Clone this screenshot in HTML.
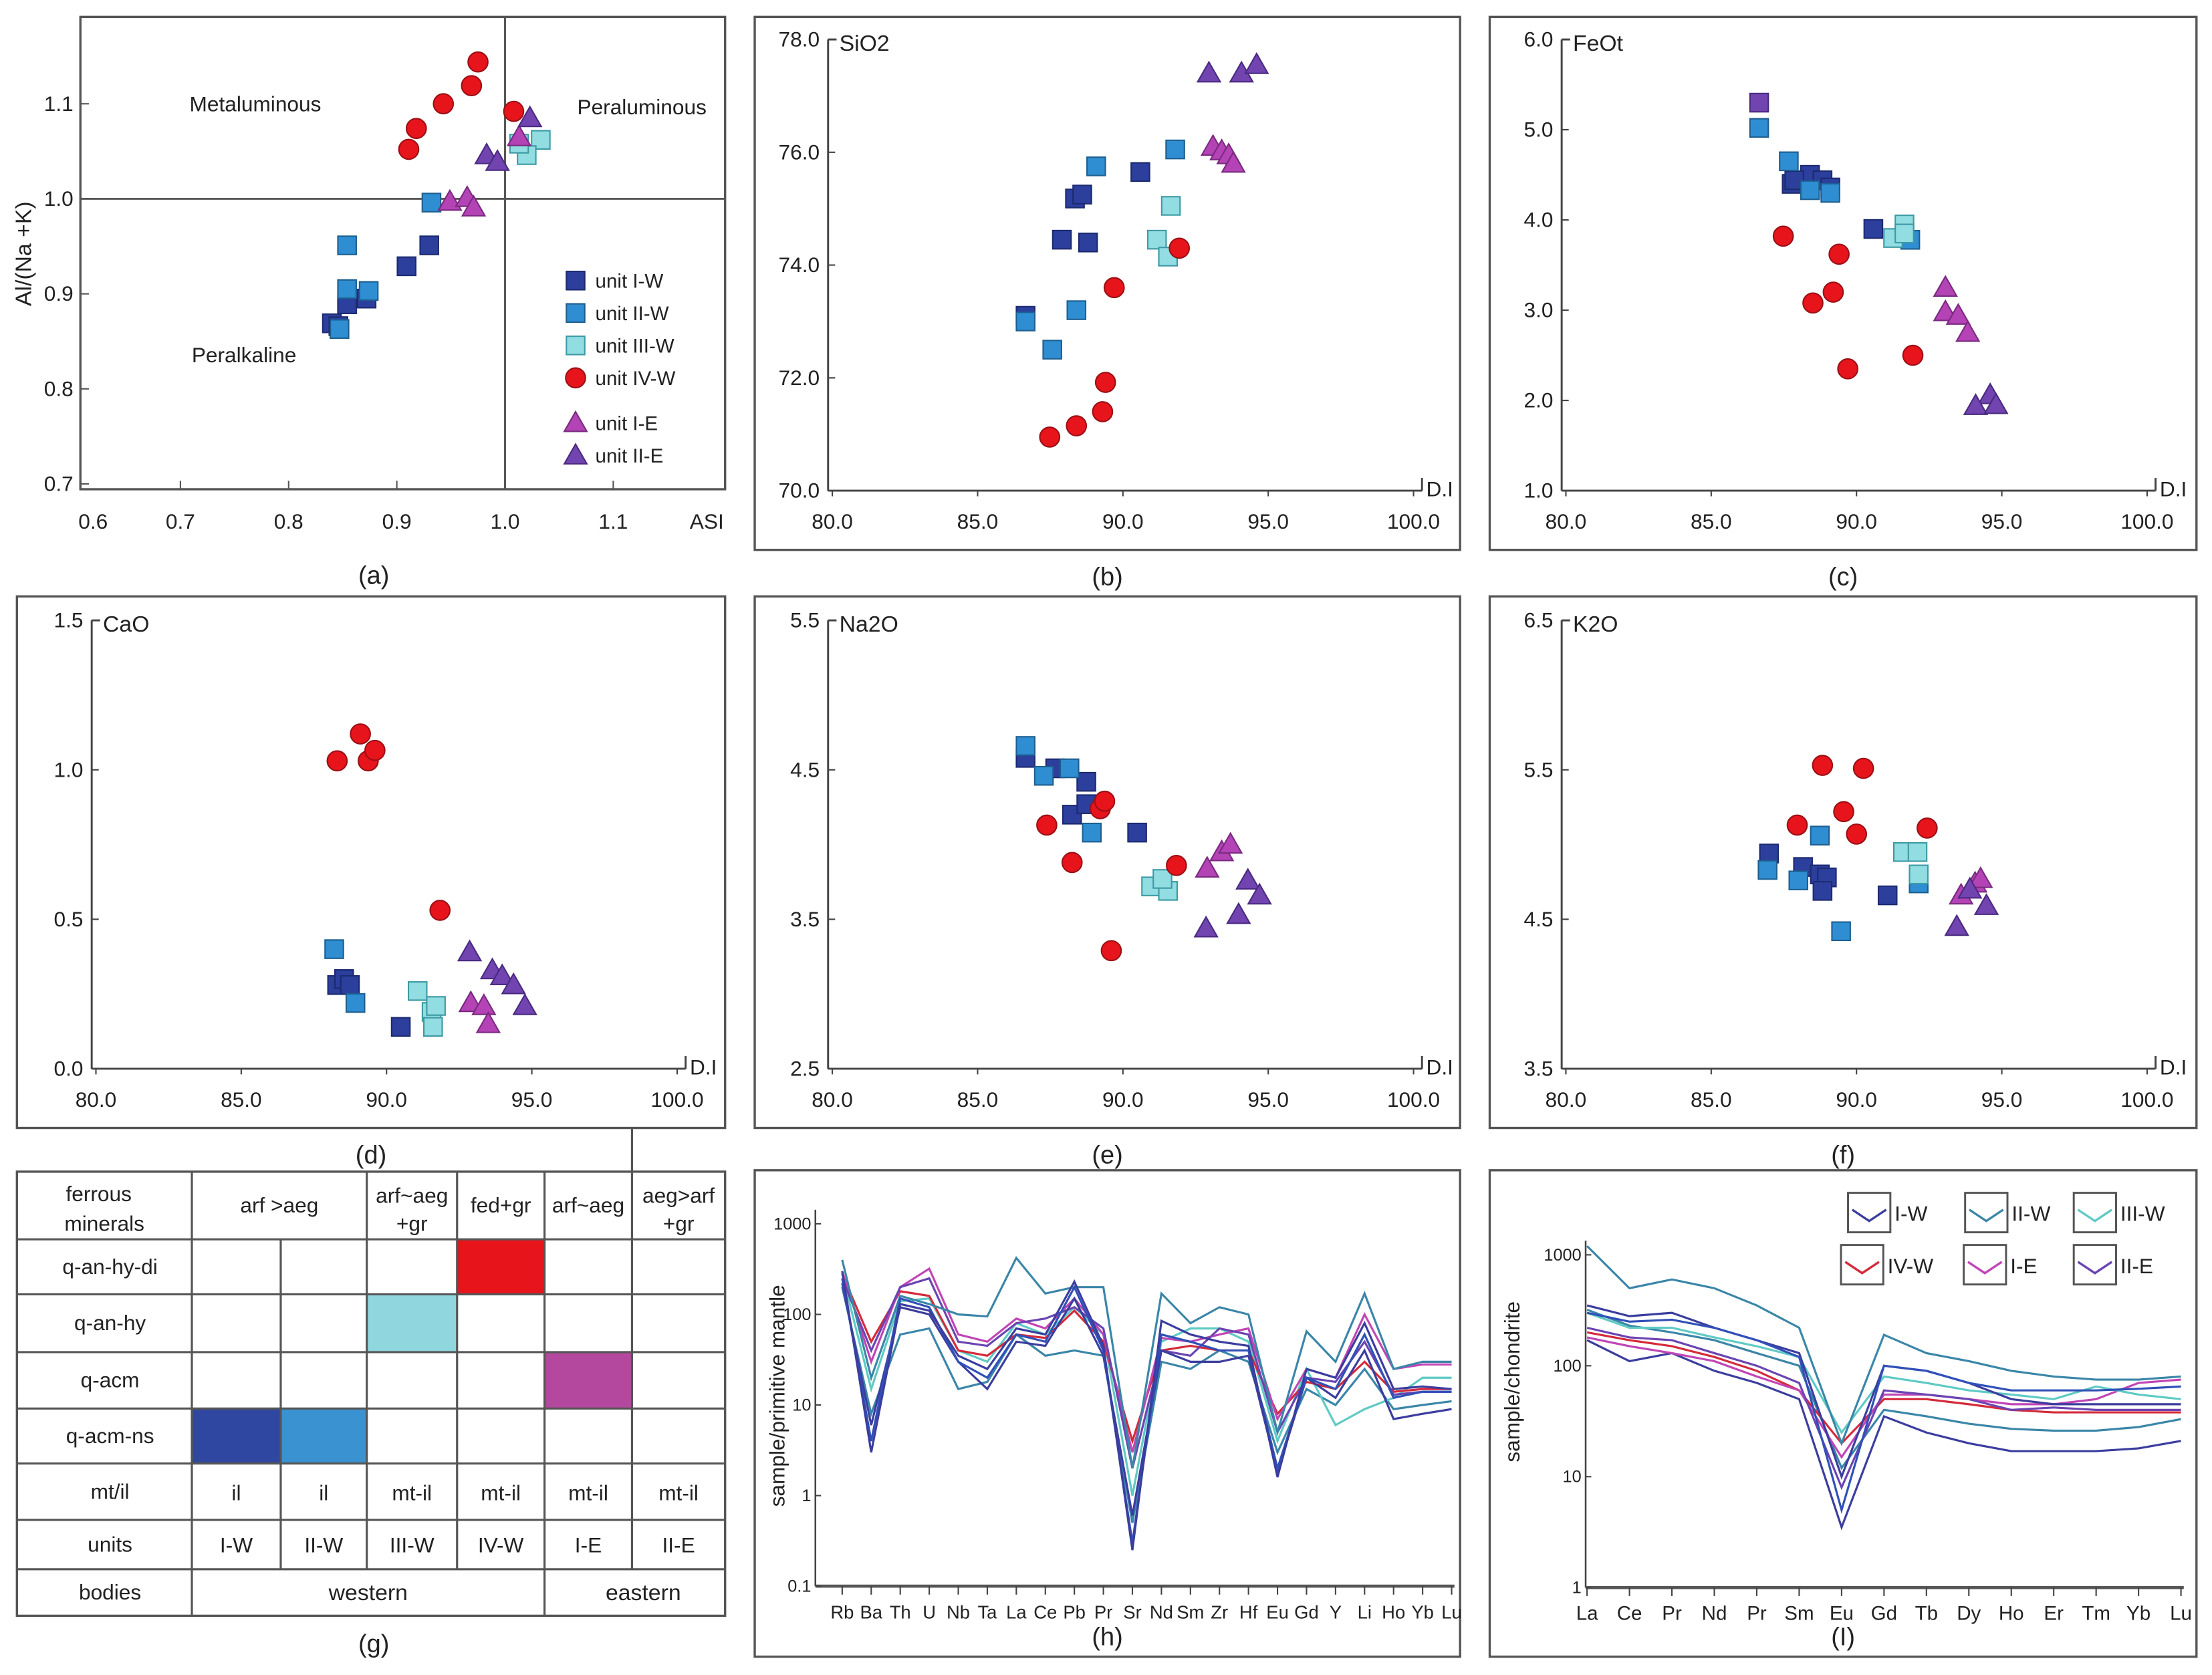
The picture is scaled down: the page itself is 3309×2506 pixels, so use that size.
<!DOCTYPE html>
<html><head><meta charset="utf-8"><style>
html,body{margin:0;padding:0;background:#fff}
svg{display:block}
text{font-family:"Liberation Sans",sans-serif;fill:#222}
</style></head><body>
<svg id="fig" width="3309" height="2506" viewBox="0 0 1568 1188" preserveAspectRatio="none" xmlns="http://www.w3.org/2000/svg"></svg>
<script>
// ---------- data ----------
// panel a: [ASI, A/NK]
const a_IW=[[0.930,0.951],[0.909,0.929],[0.872,0.895],[0.854,0.889],[0.840,0.869],[0.846,0.866]];
const a_IIW=[[0.854,0.951],[0.932,0.996],[0.854,0.905],[0.874,0.903],[0.847,0.863]];
const a_IIIW=[[1.033,1.062],[1.020,1.046],[1.013,1.058]];
const a_IVW=[[0.975,1.144],[0.969,1.119],[0.943,1.100],[0.918,1.074],[0.911,1.052],[1.008,1.092]];
const a_IE=[[0.949,0.997],[0.965,1.001],[0.971,0.991],[1.013,1.065]];
const a_IIE=[[1.023,1.085],[0.983,1.046],[0.993,1.039]];
// panel b SiO2 vs D.I
const b_IW=[[86.65,73.1],[88.35,75.18],[88.6,75.25],[87.9,74.45],[88.8,74.4],[90.6,75.65]];
const b_IIW=[[86.65,73.0],[87.57,72.5],[88.4,73.2],[89.08,75.75],[91.8,76.05]];
const b_IIIW=[[91.17,74.45],[91.55,74.15],[91.65,75.05]];
const b_IVW=[[87.48,70.95],[88.4,71.15],[89.3,71.4],[89.4,71.92],[89.7,73.6],[91.94,74.3]];
const b_IE=[[93.1,76.1],[93.4,76.02],[93.64,75.95],[93.8,75.8]];
const b_IIE=[[92.96,77.4],[94.08,77.4],[94.6,77.55]];
// panel c FeOt
const c_IW=[[87.77,4.4],[88.4,4.5],[88.83,4.44],[89.1,4.36],[90.58,3.9],[87.86,4.44]];
const c_IIW=[[86.65,5.02],[87.67,4.65],[88.4,4.33],[89.1,4.3],[91.85,3.78]];
const c_IIIW=[[91.26,3.8],[91.65,3.95],[91.65,3.85]];
const c_IVW=[[87.48,3.82],[88.5,3.08],[89.2,3.2],[89.4,3.62],[89.7,2.35],[91.94,2.5]];
const c_IE=[[93.06,3.25],[93.06,2.98],[93.5,2.94],[93.83,2.75]];
const c_IIE=[[94.6,2.06],[94.1,1.94],[94.8,1.95]];
const c_extra=[[86.65,5.3]];
// panel d CaO
const d_IW=[[88.3,0.28],[88.54,0.30],[88.74,0.28],[90.49,0.14]];
const d_IIW=[[88.2,0.40],[88.93,0.22]];
const d_IIIW=[[91.07,0.26],[91.55,0.19],[91.6,0.14],[91.7,0.21]];
const d_IVW=[[88.3,1.03],[89.1,1.12],[89.37,1.03],[89.6,1.065],[91.84,0.53]];
const d_IE=[[92.9,0.22],[93.35,0.21],[93.5,0.15]];
const d_IIE=[[92.86,0.39],[93.64,0.33],[93.98,0.31],[94.37,0.28],[94.76,0.21]];
// panel e Na2O
const e_IW=[[86.65,4.58],[87.67,4.51],[88.25,4.2],[88.74,4.42],[88.74,4.27],[90.49,4.08]];
const e_IIW=[[86.65,4.66],[87.28,4.46],[88.16,4.51],[88.93,4.08]];
const e_IIIW=[[90.97,3.72],[91.55,3.69],[91.36,3.77]];
const e_IVW=[[87.38,4.13],[88.25,3.88],[89.22,4.24],[89.37,4.29],[89.6,3.29],[91.84,3.86]];
const e_IE=[[92.9,3.84],[93.4,3.95],[93.7,4.0]];
const e_IIE=[[92.86,3.44],[93.98,3.53],[94.3,3.76],[94.7,3.66]];
// panel f K2O
const f_IW=[[86.99,4.94],[88.16,4.85],[88.74,4.8],[88.98,4.78],[88.83,4.69],[91.07,4.66]];
const f_IIW=[[86.94,4.83],[88.0,4.76],[88.74,5.06],[89.47,4.42],[92.14,4.74]];
const f_IIIW=[[91.6,4.95],[92.1,4.95],[92.14,4.80]];
const f_IVW=[[87.96,5.13],[88.83,5.53],[89.56,5.22],[90.0,5.07],[90.24,5.51],[92.43,5.11]];
const f_IE=[[93.6,4.66],[94.08,4.74],[94.27,4.77]];
const f_IIE=[[93.45,4.45],[94.47,4.59],[93.9,4.70]];
// panel h spider (primitive mantle)
const h_elements=["Rb","Ba","Th","U","Nb","Ta","La","Ce","Pb","Pr","Sr","Nd","Sm","Zr","Hf","Eu","Gd","Y","Li","Ho","Yb","Lu"];
const h_IW1=[250,4,150,120,30,20,60,50,200,40,0.3,60,50,40,40,2,20,15,60,12,14,14];
const h_IW2=[300,3,130,110,35,25,70,60,230,45,0.25,85,60,50,45,1.6,25,20,80,15,16,15];
const h_IW3=[220,6,120,100,30,15,50,45,150,35,0.6,40,30,30,35,1.8,20,12,40,7,8,9];
const h_IIW1=[400,20,160,130,100,95,420,170,200,200,2,170,80,120,100,5,65,30,170,25,30,30];
const h_IIW2=[200,8,60,70,15,18,60,35,40,35,0.5,30,25,40,30,3,15,10,25,9,10,11];
const h_IIIW=[280,15,140,150,40,30,80,60,120,60,1,50,70,70,50,4,25,6,9,12,20,20];
const h_IVW=[280,50,180,160,40,35,60,55,110,50,4,40,45,40,40,8,18,15,30,14,15,15];
const h_IE=[300,30,200,320,60,50,90,70,150,60,3,55,50,60,70,7,25,20,100,25,28,28];
const h_IIE=[250,40,200,250,50,45,80,90,120,70,2,40,35,70,60,5,20,18,50,13,14,14];
const h_ticks=[0.1,1,10,100,1000];
// panel i REE (chondrite)
const i_elements=["La","Ce","Pr","Nd","Pr","Sm","Eu","Gd","Tb","Dy","Ho","Er","Tm","Yb","Lu"];
const i_IIW1=[1200,500,600,500,350,220,20,190,130,110,90,80,75,75,80];
const i_IW1=[350,280,300,220,170,130,10,100,90,70,50,45,45,45,45];
const i_IW2=[170,110,130,90,70,50,3.5,35,25,20,17,17,17,18,21];
const i_IVW=[200,170,150,120,90,60,20,50,50,45,40,38,38,38,38];
const i_IE=[180,150,130,110,80,60,15,55,55,50,45,45,50,70,75];
const i_IIIW=[300,220,220,180,150,120,25,80,70,60,55,50,65,55,50];
const i_IIE=[220,180,170,130,100,70,8,60,55,50,40,42,40,40,40];
const i_IW3=[300,250,260,220,170,120,5,100,90,70,60,60,60,62,65];
const i_IIW2=[320,230,200,170,130,100,12,40,35,30,27,26,26,28,33];
const i_ticks=[1,10,100,1000];

// ---------- helpers ----------
const NS="http://www.w3.org/2000/svg";
const svg=document.getElementById('fig');
function mk(tag,attrs,parent){const e=document.createElementNS(NS,tag);for(const k in attrs)e.setAttribute(k,attrs[k]);(parent||svg).appendChild(e);return e;}
function txt(s,x,y,size,anchor,parent){const t=mk('text',{x:x,y:y,'font-size':size,'text-anchor':anchor||'start'},parent);t.textContent=s;return t;}
const COL={IW:'#2d3f9c',IIW:'#2f8ed2',IIIW:'#92dde2',IVW:'#e8141c',IE:'#b443b6',IIE:'#7144b0'};
const EDGE={IW:'#1c2a70',IIW:'#1d5f90',IIIW:'#3c9aa4',IVW:'#9a1015',IE:'#7a2a80',IIE:'#4a2a80'};
function marker(g,kind,unit,x,y){
  let e;
  if(kind==='sq'){e=mk('rect',{x:x-6.5,y:y-6.5,width:13,height:13,fill:COL[unit],stroke:EDGE[unit],'stroke-width':1},g);}
  else if(kind==='ci'){e=mk('circle',{cx:x,cy:y,r:7,fill:COL[unit],stroke:EDGE[unit],'stroke-width':1},g);}
  else {e=mk('polygon',{points:`${x},${y-8} ${x-8},${y+6} ${x+8},${y+6}`,fill:COL[unit],stroke:EDGE[unit],'stroke-width':1},g);}
  
  
  return e;
}
function plotSets(g,sets,X,Y){
  sets.forEach(s=>s.d.forEach(p=>marker(g,s.k,s.u,X(p[0]),Y(p[1]))));
}

// ---------- panel a ----------
(function(){
  const g=mk('g',{});
  
  
  const X=v=>358+(v-1)*767, Y=v=>141-(v-1)*674;
  const f=mk('rect',{x:57,y:12,width:457,height:335,fill:'none',stroke:'#555','stroke-width':1.6},g);
  
  mk('line',{x1:X(1),y1:12,x2:X(1),y2:347,stroke:'#555','stroke-width':1.4},g);
  mk('line',{x1:57,y1:Y(1),x2:514,y2:Y(1),stroke:'#555','stroke-width':1.4},g);
  [0.7,0.8,0.9,1.0,1.1].forEach(v=>mk('line',{x1:X(v),y1:347,x2:X(v),y2:341,stroke:'#555'},g));
  [0.7,0.8,0.9,1.0,1.1].forEach(v=>mk('line',{x1:57,y1:Y(v),x2:63,y2:Y(v),stroke:'#555'},g));
  [0.6,0.7,0.8,0.9,1.0,1.1].forEach((v,i)=>{const t=txt(v.toFixed(1),i===0?66:X(v),375,15,'middle',g);});
  txt('ASI',501,375,15,'middle',g);
  [0.7,0.8,0.9,1.0,1.1].forEach(v=>{const t=txt(v.toFixed(1),52,Y(v)+5,15,'end',g);});
  const yl=txt('Al/(Na +K)',0,0,16,'middle',g);yl.setAttribute('transform','translate(22,180) rotate(-90)');
  
  txt('Metaluminous',181,79,15,'middle',g);
  txt('Peraluminous',455,81,15,'middle',g);
  txt('Peralkaline',173,257,15,'middle',g);
  plotSets(g,[{d:a_IW,k:'sq',u:'IW'},{d:a_IIW,k:'sq',u:'IIW'},{d:a_IIIW,k:'sq',u:'IIIW'},{d:a_IVW,k:'ci',u:'IVW'},{d:a_IE,k:'tr',u:'IE'},{d:a_IIE,k:'tr',u:'IIE'}],X,Y);
  const leg=[['sq','IW','unit I-W',199],['sq','IIW','unit II-W',222],['sq','IIIW','unit III-W',245],['ci','IVW','unit IV-W',268],['tr','IE','unit I-E',300],['tr','IIE','unit II-E',323]];
  leg.forEach(l=>{const lg=mk('g',{},g);marker(lg,l[0],l[1],408,l[3]);txt(l[2],422,l[3]+5,14,'start',lg);});
  txt('(a)',265,414,18,'middle',g);
})();

// ---------- D.I panels ----------
function diPanel(name,fr,x0,axB,yMin,ySc,yt,title,sets,letter){
  const g=mk('g',{});
  
  
  const X=v=>x0+(v-80)*20.6, Y=v=>axB-(v-yMin)*ySc;
  const f=mk('rect',{x:fr[0],y:fr[1],width:fr[2]-fr[0],height:fr[3]-fr[1],fill:'none',stroke:'#555','stroke-width':1.6},g);
  
  const axL=x0-3, yTop=Y(yt[yt.length-1]), xEnd=X(100)+6;
  mk('line',{x1:axL,y1:axB,x2:xEnd,y2:axB,stroke:'#444','stroke-width':1.4},g);
  mk('line',{x1:axL,y1:axB,x2:axL,y2:yTop,stroke:'#444','stroke-width':1.4},g);
  mk('line',{x1:xEnd,y1:axB,x2:xEnd,y2:axB-9,stroke:'#444','stroke-width':1.4},g);
  mk('line',{x1:axL,y1:yTop,x2:axL+6,y2:yTop,stroke:'#444','stroke-width':1.4},g);
  [80,85,90,95,100].forEach(v=>{mk('line',{x1:X(v),y1:axB,x2:X(v),y2:axB+4,stroke:'#444'},g);const t=txt(v.toFixed(1),X(v),axB+27,15,'middle',g);});
  yt.forEach(v=>{mk('line',{x1:axL,y1:Y(v),x2:axL+5,y2:Y(v),stroke:'#444'},g);const t=txt(v.toFixed(1),axL-6,Y(v)+5,15,'end',g);});
  txt('D.I',xEnd+3,axB+4,15,'start',g);
  const tt=txt(title,axL+8,yTop+8,16,'start',g);
  plotSets(g,sets,X,Y);
  txt(letter,(fr[0]+fr[2])/2,fr[3]+25,18,'middle',g);
}
diPanel('panel-b-sio2',[535,12,1035,390],590,348,70,40,[70,72,74,76,78],'SiO2',
  [{d:b_IW,k:'sq',u:'IW'},{d:b_IIW,k:'sq',u:'IIW'},{d:b_IIIW,k:'sq',u:'IIIW'},{d:b_IVW,k:'ci',u:'IVW'},{d:b_IE,k:'tr',u:'IE'},{d:b_IIE,k:'tr',u:'IIE'}],'(b)');
diPanel('panel-c-feot',[1056,12,1557,390],1110,348,1,64,[1,2,3,4,5,6],'FeOt',
  [{d:c_extra,k:'sq',u:'IIE'},{d:c_IW,k:'sq',u:'IW'},{d:c_IIW,k:'sq',u:'IIW'},{d:c_IIIW,k:'sq',u:'IIIW'},{d:c_IVW,k:'ci',u:'IVW'},{d:c_IE,k:'tr',u:'IE'},{d:c_IIE,k:'tr',u:'IIE'}],'(c)');
diPanel('panel-d-cao',[12,423,514,800],68,758,0,212,[0,0.5,1,1.5],'CaO',
  [{d:d_IW,k:'sq',u:'IW'},{d:d_IIW,k:'sq',u:'IIW'},{d:d_IIIW,k:'sq',u:'IIIW'},{d:d_IVW,k:'ci',u:'IVW'},{d:d_IE,k:'tr',u:'IE'},{d:d_IIE,k:'tr',u:'IIE'}],'(d)');
diPanel('panel-e-na2o',[535,423,1035,800],590,758,2.5,106,[2.5,3.5,4.5,5.5],'Na2O',
  [{d:e_IW,k:'sq',u:'IW'},{d:e_IIW,k:'sq',u:'IIW'},{d:e_IIIW,k:'sq',u:'IIIW'},{d:e_IVW,k:'ci',u:'IVW'},{d:e_IE,k:'tr',u:'IE'},{d:e_IIE,k:'tr',u:'IIE'}],'(e)');
diPanel('panel-f-k2o',[1056,423,1557,800],1110,758,3.5,106,[3.5,4.5,5.5,6.5],'K2O',
  [{d:f_IW,k:'sq',u:'IW'},{d:f_IIW,k:'sq',u:'IIW'},{d:f_IIIW,k:'sq',u:'IIIW'},{d:f_IVW,k:'ci',u:'IVW'},{d:f_IE,k:'tr',u:'IE'},{d:f_IIE,k:'tr',u:'IIE'}],'(f)');
</script>

<svg width="0" height="0"></svg>
<script>
// ---------- table g ----------
(function(){
  const g=mk('g',{});
  
  
  const cx=[12,136,199,260,324,386,448,514];
  const ry=[831,879,918,959,999,1038,1078,1113,1146];
  const fills=[[3,1,'#e8141c'],[6,1,'#7a48a8'],[2,2,'#8fd6de'],[4,3,'#b4489e'],[0,4,'#2f47a0'],[1,4,'#3a92d0']];
  fills.forEach(f=>{const r=mk('rect',{x:cx[f[0]+1],y:ry[f[1]],width:cx[f[0]+2]-cx[f[0]+1],height:ry[f[1]+1]-ry[f[1]],fill:f[2]},g);});
  const L=(x1,y1,x2,y2)=>mk('line',{x1,y1,x2,y2,stroke:'#555','stroke-width':1.5},g);
  mk('rect',{x:12,y:831,width:502,height:315,fill:'none',stroke:'#555','stroke-width':1.6},g);
  ry.slice(1,-1).forEach(y=>L(12,y,514,y));
  L(136,831,136,1146);
  [199,260,324,386,448].forEach(x=>{
    const top=(x===199)?879:831;
    const bot=(x===386)?1146:1113;
    L(x,top,x,bot);
  });
  L(448,800,448,831);
  txt('ferrous',70,852,15,'middle',g);txt('minerals',74,873,15,'middle',g);
  txt('arf >aeg',198,860,15,'middle',g);
  txt('arf~aeg',292,853,15,'middle',g);txt('+gr',292,873,15,'middle',g);
  txt('fed+gr',355,860,15,'middle',g);
  txt('arf~aeg',417,860,15,'middle',g);
  txt('aeg>arf',481,853,15,'middle',g);txt('+gr',481,873,15,'middle',g);
  const rowNames=['q-an-hy-di','q-an-hy','q-acm','q-acm-ns','mt/il','units','bodies'];
  rowNames.forEach((n,i)=>txt(n,78,(ry[i+1]+ry[i+2])/2+5,15,'middle',g));
  const mt=['il','il','mt-il','mt-il','mt-il','mt-il'];
  const un=['I-W','II-W','III-W','IV-W','I-E','II-E'];
  for(let i=0;i<6;i++){const c=(cx[i+1]+cx[i+2])/2;txt(mt[i],c,1064,15,'middle',g);txt(un[i],c,1101,15,'middle',g);}
  txt('western',261,1135,16,'middle',g);txt('eastern',456,1135,16,'middle',g);
  txt('(g)',265,1172,18,'middle',g);
})();

// ---------- spider panels ----------
function spider(name,fr,ax,elements,ticks,lines,ylabel,letter,legend){
  const g=mk('g',{});
  
  
  const n=elements.length;
  const X=i=>ax.x0+i*(ax.x1-ax.x0)/(n-1);
  const lmin=Math.log10(ticks[0]), lmax=Math.log10(ticks[ticks.length-1]);
  const Y=v=>ax.yb-(Math.log10(v)-lmin)/(lmax-lmin)*(ax.yb-ax.yt);
  const f=mk('rect',{x:fr[0],y:fr[1],width:fr[2]-fr[0],height:fr[3]-fr[1],fill:'none',stroke:'#555','stroke-width':1.6},g);
  
  mk('line',{x1:ax.xl,y1:ax.yb,x2:ax.xl,y2:ax.yt-10,stroke:'#444','stroke-width':1.2},g);
  mk('line',{x1:ax.xl,y1:ax.yb,x2:X(n-1)+2,y2:ax.yb,stroke:'#555','stroke-width':2.2},g);
  ticks.forEach(t=>{mk('line',{x1:ax.xl,y1:Y(t),x2:ax.xl+4,y2:Y(t),stroke:'#444'},g);const s=txt(String(t),ax.xl-3,Y(t)+4,12,'end',g);});
  elements.forEach((e,i)=>{mk('line',{x1:X(i),y1:ax.yb,x2:X(i),y2:ax.yb+6,stroke:'#444'},g);const s=txt(e,X(i),ax.yb+23,ax.fs,'middle',g);});
  lines.forEach(l=>{
    const p=mk('polyline',{points:l.d.map((v,i)=>X(i)+','+Y(v)).join(' '),fill:'none',stroke:l.c,'stroke-width':1.5},g);
    
    
  });
  const yl=txt(ylabel,0,0,15,'middle',g);yl.setAttribute('transform',`translate(${ax.ylx},${ax.yly}) rotate(-90)`);
  
  txt(letter,(fr[0]+fr[2])/2,fr[3]-8,18,'middle',g);
  if(legend){legend.forEach(l=>{
    const lg=mk('g',{},g);
    mk('rect',{x:l.x,y:l.y-14,width:30,height:28,fill:'none',stroke:'#555','stroke-width':1.4},lg);
    mk('polyline',{points:`${l.x+3},${l.y-2} ${l.x+15},${l.y+6} ${l.x+27},${l.y-2}`,fill:'none',stroke:l.c,'stroke-width':1.6},lg);
    txt(l.t,l.x+33,l.y+6,15,'start',lg);
  });}
}
const LC={IW:'#3b3d9e',IIW:'#3a86a8',IIIW:'#5fcac4',IVW:'#d42a3a',IE:'#c045b5',IIE:'#6a44b2'};
spider('panel-h-primitive-mantle',[535,830,1035,1175],{x0:597,x1:1029,xl:578,yt:868,yb:1125,fs:13,ylx:556,yly:990},
  h_elements,h_ticks,
  [{d:h_IIW2,c:LC.IIW,u:'IIW'},{d:h_IIIW,c:LC.IIIW,u:'IIIW'},{d:h_IVW,c:LC.IVW,u:'IVW'},{d:h_IE,c:LC.IE,u:'IE'},{d:h_IIE,c:LC.IIE,u:'IIE'},{d:h_IIW1,c:LC.IIW,u:'IIW'},{d:h_IW3,c:LC.IW,u:'IW'},{d:h_IW1,c:'#3050b8',u:'IW'},{d:h_IW2,c:LC.IW,u:'IW'}],
  'sample/primitive mantle','(h)',null);
spider('panel-i-chondrite',[1056,830,1557,1175],{x0:1125,x1:1546,xl:1124,yt:890,yb:1126,fs:14,ylx:1077,yly:980},
  i_elements,i_ticks,
  [{d:i_IW2,c:LC.IW,u:'IW'},{d:i_IIW2,c:LC.IIW,u:'IIW'},{d:i_IVW,c:LC.IVW,u:'IVW'},{d:i_IE,c:LC.IE,u:'IE'},{d:i_IIE,c:LC.IIE,u:'IIE'},{d:i_IIIW,c:LC.IIIW,u:'IIIW'},{d:i_IW1,c:LC.IW,u:'IW'},{d:i_IW3,c:'#3050b8',u:'IW'},{d:i_IIW1,c:LC.IIW,u:'IIW'}],
  'sample/chondrite','(I)',
  [{x:1310,y:860,c:LC.IW,t:'I-W'},{x:1393,y:860,c:LC.IIW,t:'II-W'},{x:1470,y:860,c:LC.IIIW,t:'III-W'},
   {x:1305,y:897,c:LC.IVW,t:'IV-W'},{x:1392,y:897,c:LC.IE,t:'I-E'},{x:1470,y:897,c:LC.IIE,t:'II-E'}]);
</script>
</body></html>
